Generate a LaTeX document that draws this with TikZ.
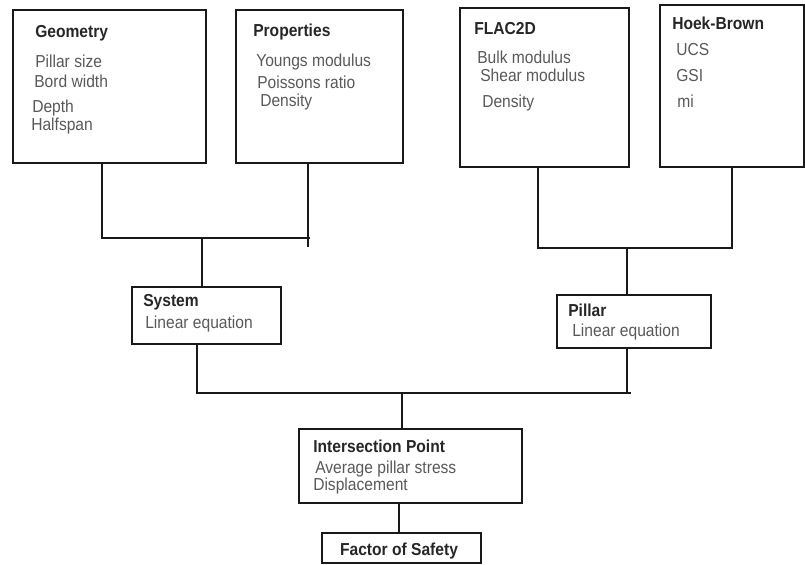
\documentclass[tikz,border=0pt]{standalone}
\usepackage{fontspec}
\setmainfont[FakeStretch=0.9]{Liberation Sans}
\usepackage{tikz}
\usetikzlibrary{calc}

\begin{document}
\begin{tikzpicture}[
    x=0.75pt, y=-0.75pt,
    box/.style={draw=black!90, line width=2.2pt, inner sep=0pt},
    link/.style={draw=black!90, line width=2pt},
    head/.style={anchor=base west, inner sep=0pt, font=\fontsize{13pt}{15pt}\selectfont\bfseries, text=black!85},
    item/.style={anchor=base west, inner sep=0pt, font=\fontsize{13pt}{15pt}\selectfont, text=black!65}
]
\useasboundingbox (0,0) rectangle (805,564);

% Top row: input boxes
\node[box, minimum width=144.75pt, minimum height=114.75pt] (geom) at (109.5,86.5) {};
\node[head] (geomT) at (35,37) {Geometry};
\node[item] (geom1) at (35,67) {Pillar size};
\node[item] (geom2) at (34,87) {Bord width};
\node[item] (geom3) at (32,112) {Depth};
\node[item] (geom4) at (31,130) {Halfspan};

\node[box, minimum width=125.25pt, minimum height=114.75pt] (prop) at (319.5,86.5) {};
\node[head] (propT) at (253,36) {Properties};
\node[item] (prop1) at (256,66) {Youngs modulus};
\node[item] (prop2) at (257,88) {Poissons ratio};
\node[item] (prop3) at (260,106) {Density};

\node[box, minimum width=126.75pt, minimum height=119.25pt] (flac) at (544.5,87.5) {};
\node[head] (flacT) at (474,34) {FLAC2D};
\node[item] (flac1) at (477,63) {Bulk modulus};
\node[item] (flac2) at (480,81) {Shear modulus};
\node[item] (flac3) at (482,107) {Density};

\node[box, minimum width=108pt, minimum height=121.5pt] (hoek) at (732,86) {};
\node[head] (hoekT) at (672,29) {Hoek-Brown};
\node[item] (hoek1) at (676,55) {UCS};
\node[item] (hoek2) at (676,81) {GSI};
\node[item] (hoek3) at (677,107) {mi};

% Middle row: linear equations
\node[box, minimum width=111.75pt, minimum height=42.75pt] (sys) at (206.5,315.5) {};
\node[head] (sysT) at (143,306) {System};
\node[item] (sys1) at (145,328) {Linear equation};

\node[box, minimum width=115.5pt, minimum height=39.75pt] (pil) at (634,321.5) {};
\node[head] (pilT) at (568,316) {Pillar};
\node[item] (pil1) at (572,336) {Linear equation};

% Bottom: result
\node[box, minimum width=167.25pt, minimum height=55.5pt] (inter) at (410.5,466) {};
\node[head] (interT) at (313,452) {Intersection Point};
\node[item] (inter1) at (315,473) {Average pillar stress};
\node[item] (inter2) at (313,490) {Displacement};

\node[box, minimum width=119.25pt, minimum height=22.5pt] (fos) at (401.5,548) {};
\node[head, anchor=base] (fosT) at (399,555) {Factor of Safety};

% Bus points
\coordinate (busAw) at (102,238);
\coordinate (busAe) at (310,238);
\coordinate (busAm) at (202,238);
\coordinate (propEnd) at (308,247);
\coordinate (busBw) at (538,248);
\coordinate (busBe) at (732,248);
\coordinate (busBm) at (627,248);
\coordinate (busCw) at (197,393);
\coordinate (busCe) at (631,393);
\coordinate (busCm) at (402,393);
\coordinate (pilEnd) at (627,393);

% Connectors
\draw[link] (geom.south -| busAw) -- (busAw) -- (busAe);
\draw[link] (prop.south -| propEnd) -- (propEnd);
\draw[link] (busAm) -- (sys.north -| busAm);

\draw[link] (flac.south -| busBw) -- (busBw) -- (busBe) -- (hoek.south -| busBe);
\draw[link] (busBm) -- (pil.north -| busBm);

\draw[link] (sys.south -| busCw) -- (busCw) -- (busCe);
\draw[link] (pil.south -| pilEnd) -- (pilEnd);
\draw[link] (busCm) -- (inter.north -| busCm);

\draw[link] ([xshift=-1.9pt]fos.north |- inter.south) -- ([xshift=-1.9pt]fos.north);

\end{tikzpicture}
\end{document}
